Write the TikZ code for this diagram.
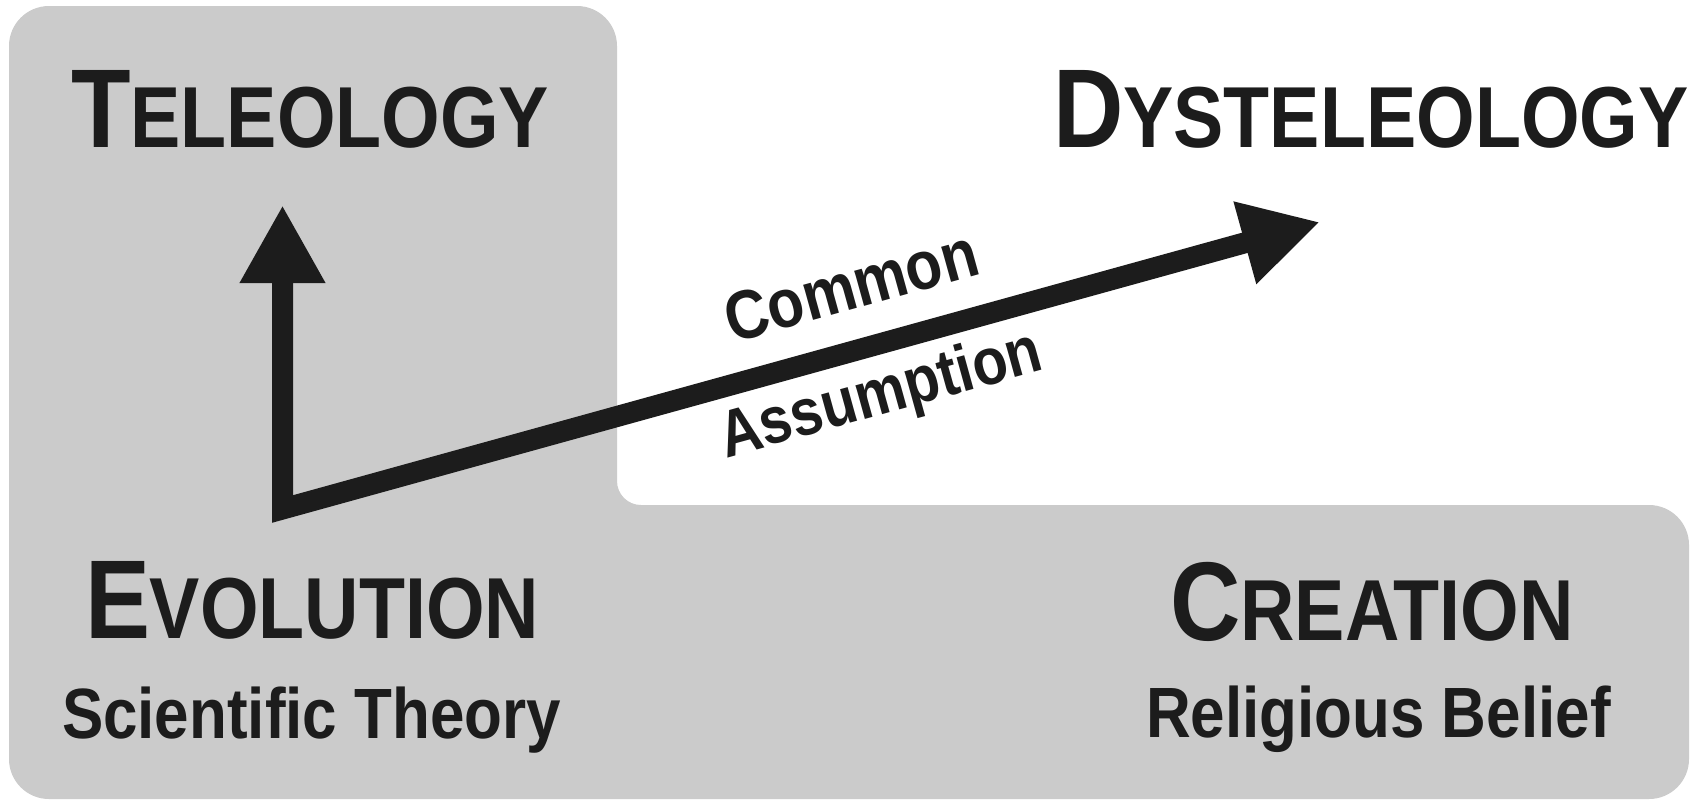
\documentclass[tikz,border=0pt]{standalone}
\usepackage{fontspec}
\setmainfont{Liberation Sans}[FakeStretch=0.87]
\usetikzlibrary{arrows.meta}
\definecolor{panel}{RGB}{203,203,203}
\definecolor{ink}{RGB}{28,28,28}
\newcommand\bigsc[2]{{\fontsize{56}{56}\selectfont #1}{\fontsize{43.3}{44}\selectfont #2}}
\tikzset{
  lbl/.style={inner sep=0pt, outer sep=0pt, anchor=base west, text=ink, font=\bfseries},
  sub/.style={lbl, font=\bfseries\fontsize{35.6}{36}\selectfont},
  slant/.style={lbl, font=\bfseries\fontsize{33}{34}\selectfont, rotate=15.5},
  bigarrow/.style={draw=ink, line width=10.5pt, line join=miter,
    {Triangle[length=39pt, width=40pt]}-{Triangle[length=39pt, width=40pt]}}
}
\begin{document}
\begin{tikzpicture}[x=0.5pt, y=-0.5pt]
\useasboundingbox (0,0) rectangle (1700,804);
\fill[panel, rounded corners=20pt] (9,300) -- (9,6) -- (617,6)
  [rounded corners=12pt] -- (617,505)
  [rounded corners=20pt] -- (1689,505) -- (1689,799) -- (9,799) -- cycle;
\node[lbl] (tel) at (71,147) {\bigsc{T}{ELEOLOGY}};
\node[lbl] (dys) at (1053,147) {\bigsc{D}{YSTELEOLOGY}};
\node[lbl] (evo) at (85,638) {\bigsc{E}{VOLUTION}};
\node[lbl] (cre) at (1170,640) {\bigsc{C}{REATION}};
\node[sub] (sci) at (62,738) {Scientific Theory};
\node[sub] (rel) at (1146,737) {Religious Belief};
\node[slant, font=\bfseries\fontsize{34.5}{35}\selectfont] (com) at (732,343) {Common};
\node[slant] (ass) at (726,458) {Assumption};
\coordinate (up) at (282.5,205);
\coordinate (corner) at (282.5,509);
\coordinate (tip) at (1320,222);
\draw[bigarrow] (up) -- (corner) -- (tip);
\end{tikzpicture}
\end{document}
